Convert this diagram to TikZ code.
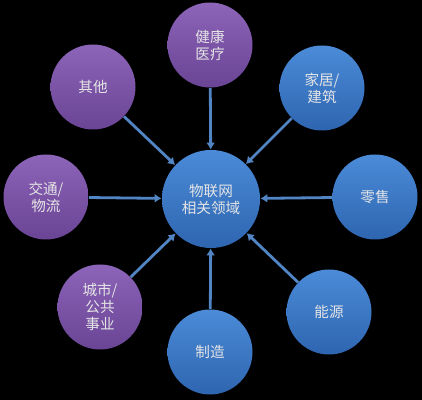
\documentclass[tikz,border=0pt]{standalone}
\usepackage{fontspec}
\usepackage{xcolor}
\newfontfamily\cjk{Noto Sans CJK SC}
\usetikzlibrary{arrows.meta, positioning, shapes.geometric}

\definecolor{purpletop}{HTML}{8C64B8}
\definecolor{purplebot}{HTML}{6A4495}
\definecolor{bluetop}{HTML}{4B8BD8}
\definecolor{bluebot}{HTML}{2E65B0}
\definecolor{arrowblue}{HTML}{5285C4}

\begin{document}
\begin{tikzpicture}[
    x=0.5pt, y=-0.5pt,
    every node/.style={font=\cjk\fontsize{7.3}{8.5}\selectfont, text=white!90!black},
    area/.style={circle, minimum size=42.5pt, inner sep=0pt, align=center},
    purplearea/.style={area, top color=purpletop, bottom color=purplebot},
    bluearea/.style={area, top color=bluetop, bottom color=bluebot},
    hub/.style={circle, minimum size=49pt, inner sep=0pt, align=center, top color=bluetop, bottom color=bluebot},
    arrow/.style={-{Latex[length=3.5pt, width=4.5pt]}, line width=1.4pt, draw=arrowblue}
  ]
    \fill[black] (0,0) rectangle (422,400);
    \useasboundingbox (0,0) rectangle (422,400);

    \node[hub] (iot) at (211,199) {物联网\\相关领域};

    \node[purplearea] (health) at (210,45) {健康\\医疗};
    \node[purplearea] (other) at (93,87) {其他};
    \node[bluearea] (home) at (322,88) {家居/\\建筑};
    \node[purplearea] (traffic) at (46,197) {交通/\\物流};
    \node[bluearea] (retail) at (375,197) {零售};
    \node[purplearea] (city) at (100,307) {城市/\\公共\\事业};
    \node[bluearea] (energy) at (329,312) {能源};
    \node[bluearea] (make) at (210,352) {制造};

    \draw[arrow] (health) -- (iot);
    \draw[arrow] (other) -- (iot);
    \draw[arrow] (home) -- (iot);
    \draw[arrow] (traffic) -- (iot);
    \draw[arrow] (retail) -- (iot);
    \draw[arrow] (city) -- (iot);
    \draw[arrow] (energy) -- (iot);
    \draw[arrow] (make) -- (iot);
  \end{tikzpicture}
\end{document}
